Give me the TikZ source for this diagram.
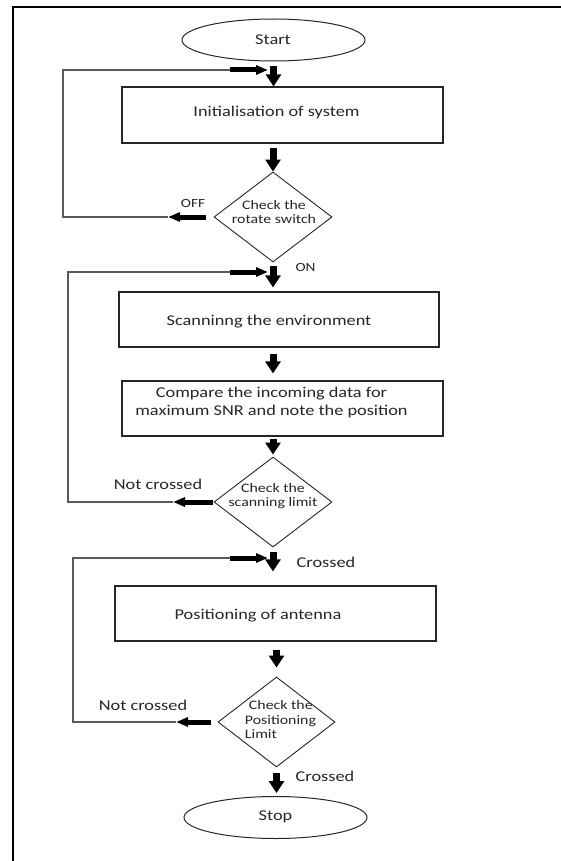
\documentclass[tikz,border=0pt]{standalone}
\usepackage{fontspec}
\setmainfont{Carlito}[FakeStretch=1.22]
\usetikzlibrary{shapes.geometric,arrows.meta}
\begin{document}
\begin{tikzpicture}[x=1pt,y=-1pt,
  box/.style={draw=black!85, line width=1.2pt, rectangle, inner sep=0pt},
  oval/.style={draw=black!85, line width=1pt, ellipse, inner sep=0pt, minimum width=183pt, minimum height=42pt},
  dia/.style={draw=black!85, line width=0.9pt, diamond, inner sep=0pt, minimum width=118pt, minimum height=90pt},
  txt/.style={inner sep=0pt, font=\fontsize{15}{18}\selectfont, text=black!85},
  dtxt/.style={inner sep=0pt, font=\fontsize{13}{14.5}\selectfont, text=black!85, align=center},
  lbl/.style={inner sep=0pt, font=\fontsize{15}{18}\selectfont, text=black!85},
  slbl/.style={inner sep=0pt, font=\fontsize{12.5}{15}\selectfont, text=black!85},
  dn/.style={line width=7pt, -{Triangle[width=15pt,length=12pt]}},
  hz/.style={line width=5pt, -{Triangle[width=9pt,length=12pt]}},
  loopline/.style={draw=black!65, line width=1.2pt}]
\useasboundingbox (0,0) rectangle (561,861);
% frame
\coordinate (fa) at (13,861);
\coordinate (fb) at (13,7);
\coordinate (fc) at (561,7);
\draw[line width=2.5pt] (fa) -- (fb) -- (fc);
% nodes
\node[oval] (start) at (273.5,40) {};
\node[txt] (starttxt) at (273,40) {Start};
\node[box, minimum width=321pt, minimum height=56pt] (init) at (282.5,115) {};
\node[txt] (inittxt) at (276.5,113) {Initialisation of system};
\node[dia] (d1) at (273,217) {};
\node[dtxt] (d1txt) at (274,212) {Check the\\rotate switch};
\node[box, minimum width=320pt, minimum height=55pt] (scan) at (279,319.5) {};
\node[txt] (scantxt) at (269,322) {Scanninng the environment};
\node[box, minimum width=321pt, minimum height=55pt] (comp) at (282.5,408.5) {};
\node[txt, align=center] (comptxt) at (271.5,402) {Compare the incoming data for\\maximum SNR and note the position};
\node[dia] (d2) at (273,502) {};
\node[dtxt] (d2txt) at (273,496) {Check the\\scanning limit};
\node[box, minimum width=321pt, minimum height=55pt] (pos) at (275.5,613.5) {};
\node[txt] (postxt) at (258,616) {Positioning of antenna};
\node[dia, minimum width=117pt] (d3) at (276.5,722) {};
\node[dtxt, align=left] (d3txt) at (280.5,720) {\hspace{4pt}Check the\\Positioning\\Limit};
\node[oval] (stop) at (275.5,817.5) {};
\node[txt] (stoptxt) at (275.5,817) {Stop};
% labels
\node[slbl] (off) at (193,203) {OFF};
\node[slbl] (on) at (305.5,267) {ON};
\node[lbl] (nc1) at (158,484) {Not crossed};
\node[lbl] (cr1) at (326,562) {Crossed};
\node[lbl] (nc2) at (143,705) {Not crossed};
\node[lbl] (cr2) at (325,776) {Crossed};
% main down arrows
\draw[dn] ([yshift=-5pt]start.south) -- (start.south |- init.north);
\draw[dn] ([yshift=-4pt]d1.north |- init.south) -- (d1.north);
\draw[dn] ([yshift=-4pt]d1.south) -- ([yshift=4pt]d1.south |- scan.north);
\draw[dn] ([yshift=-6pt]d2.north |- scan.south) -- ([yshift=7pt]d2.north |- comp.north);
\draw[dn] ([yshift=-2pt]d2.north |- comp.south) -- ([yshift=2pt]d2.north);
\draw[dn] ([yshift=-5pt]d2.south) -- ([yshift=14pt]d2.south |- pos.north);
\draw[dn] ([yshift=-8pt]d3.north |- pos.south) -- ([yshift=9pt]d3.north);
\draw[dn] ([yshift=-6pt]d3.south) -- ([yshift=3pt]d3.south |- stop.north);
% loop 1
\coordinate (l1a) at (168,217);
\coordinate (l1b) at (63,217);
\coordinate (l1c) at (63,70);
\coordinate (l1d) at (230,70);
\coordinate (l1e) at (268,70);
\draw[hz] ([xshift=-8pt]d1.west) -- (l1a);
\draw[loopline] (l1a) -- (l1b) -- (l1c) -- (l1d);
\draw[hz] (l1d) -- (l1e);
% loop 2
\coordinate (l2a) at (173,502);
\coordinate (l2b) at (68,502);
\coordinate (l2c) at (68,272);
\coordinate (l2d) at (230,272);
\coordinate (l2e) at (268,272);
\draw[hz] ([xshift=-1pt]d2.west) -- (l2a);
\draw[loopline] (l2a) -- (l2b) -- (l2c) -- (l2d);
\draw[hz] (l2d) -- (l2e);
% loop 3
\coordinate (l3a) at (176,722);
\coordinate (l3b) at (73,722);
\coordinate (l3c) at (73,558);
\coordinate (l3d) at (230,558);
\coordinate (l3e) at (268,558);
\draw[hz] ([xshift=-7pt]d3.west) -- (l3a);
\draw[loopline] (l3a) -- (l3b) -- (l3c) -- (l3d);
\draw[hz] (l3d) -- (l3e);
\end{tikzpicture}
\end{document}
